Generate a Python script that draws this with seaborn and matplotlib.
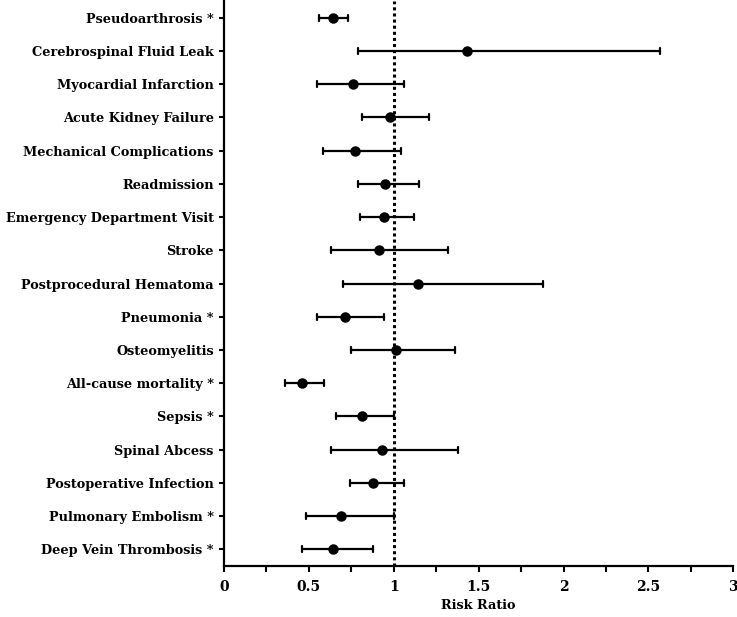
import pandas as pd
import numpy as np
import seaborn as sns
import matplotlib.pyplot as plt
from matplotlib.ticker import MultipleLocator, FuncFormatter

outcomes = ['Pseudoarthrosis *', 'Cerebrospinal Fluid Leak', 'Myocardial Infarction',
            'Acute Kidney Failure', 'Mechanical Complications', 'Readmission',
            'Emergency Department Visit', 'Stroke', 'Postprocedural Hematoma',
            'Pneumonia *', 'Osteomyelitis', 'All-cause mortality *', 'Sepsis *',
            'Spinal Abcess', 'Postoperative Infection', 'Pulmonary Embolism *',
            'Deep Vein Thrombosis *']
rr = [0.64, 1.43, 0.76, 0.98, 0.77, 0.95, 0.94, 0.91, 1.14, 0.71, 1.01, 0.46, 0.81,
      0.93, 0.88, 0.69, 0.64]
ci_low = [0.56, 0.79, 0.55, 0.81, 0.58, 0.79, 0.80, 0.63, 0.70, 0.55, 0.75, 0.36, 0.66,
          0.63, 0.74, 0.48, 0.46]
ci_high = [0.73, 2.57, 1.06, 1.21, 1.04, 1.15, 1.12, 1.32, 1.88, 0.94, 1.36, 0.59, 1.00,
           1.38, 1.06, 1.00, 0.88]

# long form: each outcome gets its low / estimate / high, point = median, bar = range
df = pd.DataFrame({
    'Outcome': outcomes * 3,
    'Risk Ratio': ci_low + rr + ci_high,
})

sns.set_style('ticks')
plt.rcParams['font.family'] = ['DejaVu Serif']
plt.rcParams['font.weight'] = 'bold'
plt.rcParams['text.color'] = 'black'
plt.rcParams['axes.labelcolor'] = 'black'
plt.rcParams['xtick.color'] = 'black'
plt.rcParams['ytick.color'] = 'black'
plt.rcParams['axes.edgecolor'] = 'black'

fig = plt.figure(figsize=(7.37, 6.17), dpi=100)
ax = fig.add_axes([0.304, 0.083, 0.691, 0.915])

sns.pointplot(data=df, x='Risk Ratio', y='Outcome', order=outcomes,
              estimator='median', errorbar=lambda v: (v.min(), v.max()),
              linestyle='none', color='black', markersize=5.5,
              err_kws={'linewidth': 1.6}, capsize=0.18, ax=ax)

ax.axvline(1, color='black', linestyle=(0, (1, 1)), linewidth=2.2, zorder=0)

ax.set_xlim(0, 3)
ax.xaxis.set_major_locator(MultipleLocator(0.5))
ax.xaxis.set_minor_locator(MultipleLocator(0.25))
ax.xaxis.set_major_formatter(FuncFormatter(lambda v, p: f'{v:g}'))
ax.set_xlabel('Risk Ratio', fontsize=9.3, fontweight='bold', labelpad=4)
ax.set_ylabel('')

sns.despine(ax=ax)
for s in ['left', 'bottom']:
    ax.spines[s].set_linewidth(1.6)
ax.tick_params(axis='both', which='both', width=1.5, color='black')
ax.tick_params(axis='x', which='both', length=4, labelsize=10, pad=6)
ax.tick_params(axis='y', length=3.5, labelsize=9.3, pad=4)
for t in ax.get_xticklabels() + ax.get_yticklabels():
    t.set_fontweight('bold')

fig.savefig('out.png', dpi=100)
